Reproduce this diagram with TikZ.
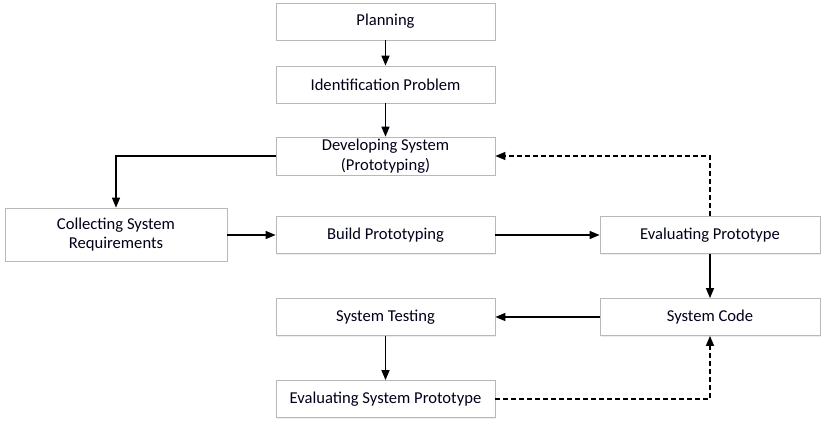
\documentclass[tikz,border=0pt]{standalone}
\usepackage{fontspec}
\setmainfont{Carlito}
\usetikzlibrary{arrows.meta,shadows}
\begin{document}
\begin{tikzpicture}[x=1pt,y=-1pt,
  box/.style={draw=black!28, line width=0.8pt, fill=white, minimum width=219pt, minimum height=37pt,
    align=center, inner sep=2pt, font=\fontsize{16.6}{19.5}\selectfont, text=black!90!blue,
    drop shadow={shadow xshift=1.2pt, shadow yshift=-1.2pt, opacity=0.18, fill=black!40}},
  arr/.style={line width=1.4pt, -{Triangle[length=10pt,width=8pt]}},
  dsh/.style={dash pattern=on 5pt off 3pt}]
\useasboundingbox (0,0) rectangle (828,427);
\node[box] (plan) at (385.5,21.5) {Planning};
\node[box] (ident) at (385.5,84.5) {Identification Problem};
\node[box] (dev) at (385.5,156) {Developing System\\(Prototyping)};
\node[box, minimum width=222pt, minimum height=53pt] (coll) at (116,234.5) {Collecting System\\Requirements};
\node[box] (build) at (385.5,235) {Build Prototyping};
\node[box, minimum width=220pt] (evalp) at (710,235) {Evaluating Prototype};
\node[box, minimum width=220pt] (code) at (710,317) {System Code};
\node[box] (test) at (385.5,317) {System Testing};
\node[box] (esp) at (385.5,399) {Evaluating System Prototype};
\draw[arr] (plan) -- (ident);
\draw[arr] (ident) -- (dev);
\draw[arr] (dev.west) -| (coll.north);
\draw[arr] (coll.east |- build.west) -- (build.west);
\draw[arr] (build) -- (evalp);
\draw[arr, dsh] (evalp.north) |- (dev.east);
\draw[arr] (evalp) -- (code);
\draw[arr] (code) -- (test);
\draw[arr] (test) -- (esp);
\draw[arr, dsh] (esp.east) -| (code.south);
\end{tikzpicture}
\end{document}
